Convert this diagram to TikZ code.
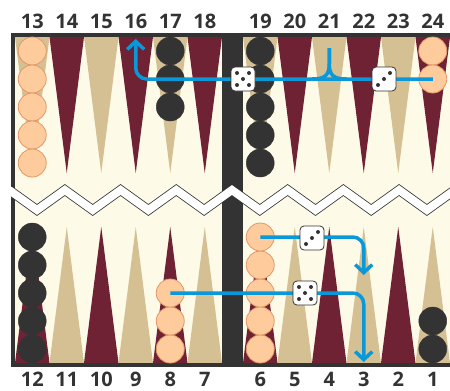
\documentclass[tikz,border=0pt]{standalone}
\usepackage{fontspec}
\setmainfont{Open Sans}
\usepackage{tikz}
\usetikzlibrary{arrows.meta}

\definecolor{bgcream}{RGB}{254,250,232}
\definecolor{ptred}{RGB}{110,34,52}
\definecolor{pttan}{RGB}{212,192,146}
\definecolor{boardedge}{RGB}{51,51,51}
\definecolor{peach}{RGB}{253,203,156}
\definecolor{peachedge}{RGB}{226,152,105}
\definecolor{moveblue}{RGB}{10,152,216}

\tikzset{
  black checker/.style={circle, fill=boardedge, draw=boardedge, minimum size=28pt, inner sep=0pt},
  white checker/.style={circle, fill=peach, draw=peachedge, line width=0.8pt, minimum size=28pt, inner sep=0pt},
  die/.style={draw=boardedge, fill=white, rounded corners=4pt, minimum size=24pt, inner sep=0pt, line width=0.8pt},
  pip/.style={fill=boardedge},
  move/.style={draw=moveblue, line width=3.5pt, rounded corners=11pt},
  movetip/.style={-{Straight Barb[length=8pt,width=17pt]}},
  ptlabel/.style={font=\bfseries\fontsize{20}{20}\selectfont, text=boardedge, inner sep=0pt},
}

\begin{document}
\begin{tikzpicture}[x=1pt,y=-1pt]
\useasboundingbox (0,0) rectangle (450,391);

% 棋盘底色
\fill[bgcream] (13,35) rectangle (450,365);

% 绘制三角
\foreach \s in {15,243}{
  \foreach \i in {0,...,5}{
    \ifodd\i \def\ca{ptred}\def\cb{pttan}\else \def\ca{pttan}\def\cb{ptred}\fi
    \fill[\ca] (\s+34.5*\i,37) -- (\s+17.25+34.5*\i,173) -- (\s+34.5+34.5*\i,37) -- cycle;
    \fill[\cb] (\s+34.5*\i,363) -- (\s+17.25+34.5*\i,227) -- (\s+34.5+34.5*\i,363) -- cycle;
  }
}

% 边框和中栏
\fill[boardedge] (222,35) rectangle (243,365);
\draw[boardedge, line width=4pt] (450,35) -- (13,35) -- (13,365) -- (450,365);

% 折线
\begin{scope}
  \clip (11,0) rectangle (450,391);
  \draw[boardedge, line width=9.6pt] (9.15,190) \foreach \k in {0,...,7}{ -- (37+55.7*\k,210) -- (64.85+55.7*\k,190)};
  \draw[white, line width=8pt] (9.15,190) \foreach \k in {0,...,7}{ -- (37+55.7*\k,210) -- (64.85+55.7*\k,190)};
\end{scope}

% 棋子
\foreach \k in {1,...,5} \node[white checker] (c13-\k) at (32.25,23+28*\k) {};
\foreach \k in {1,...,3} \node[black checker] (c17-\k) at (170.25,23+28*\k) {};
\foreach \k in {1,...,5} \node[black checker] (c19-\k) at (260.25,23+28*\k) {};
\foreach \k in {1,...,2} \node[white checker] (c24-\k) at (432.75,23+28*\k) {};
\foreach \k in {1,...,5} \node[black checker] (c12-\k) at (32.25,377-28*\k) {};
\foreach \k in {1,...,3} \node[white checker] (c8-\k) at (170.25,377-28*\k) {};
\foreach \k in {1,...,5} \node[white checker] (c6-\k) at (260.25,377-28*\k) {};
\foreach \k in {1,...,2} \node[black checker] (c1-\k) at (432.75,377-28*\k) {};

% 走法
\coordinate (to16) at (135.75,39);
\coordinate (at21) at (329.25,48);
\coordinate (to3a) at (363.75,275);
\coordinate (to3b) at (363.75,362);
\draw[move, movetip] (c24-2.center) -| (to16);
\draw[move, rounded corners=0pt] (312,79) .. controls (324,79) and (329.25,76) .. (329.25,64) -- (at21);
\draw[move, rounded corners=0pt] (346.5,79) .. controls (334.5,79) and (329.25,76) .. (329.25,64) -- (at21);
\draw[move, movetip] (c6-5.center) -| (to3a);
\draw[move, movetip] (c8-3.center) -| (to3b);

% 骰子
\node[die] (d3top) at (384,79) {};
\node[die] (d5top) at (243,79) {};
\node[die] (d3bot) at (312,238) {};
\node[die] (d5bot) at (305,293) {};
\foreach \d in {d3top,d3bot}
  \foreach \p in {(-6,6),(0,0),(6,-6)}
    \fill[pip] ([shift={\p}]\d.center) circle (2pt);
\foreach \d in {d5top,d5bot}
  \foreach \p in {(-6,6),(6,6),(0,0),(-6,-6),(6,-6)}
    \fill[pip] ([shift={\p}]\d.center) circle (2pt);

% 点数
\foreach \s/\a/\b in {15/13/12,243/19/6}{
  \foreach \i in {0,...,5}{
    \pgfmathtruncatemacro\nt{\a+\i}
    \pgfmathtruncatemacro\nb{\b-\i}
    \node[ptlabel] (n\nt) at (\s+17.25+34.5*\i,21) {\nt};
    \node[ptlabel] (n\nb) at (\s+17.25+34.5*\i,379) {\nb};
  }
}
\end{tikzpicture}
\end{document}
